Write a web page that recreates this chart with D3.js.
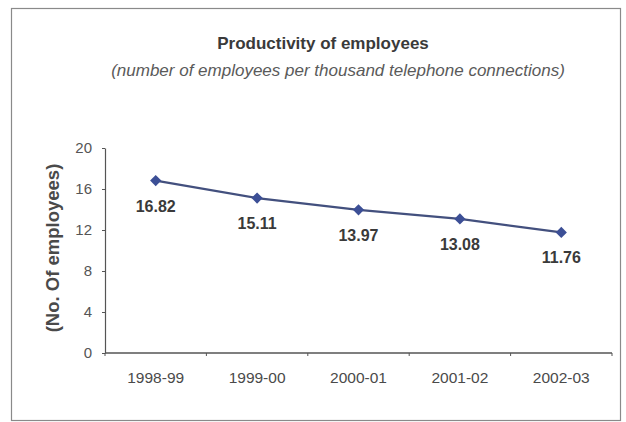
<!DOCTYPE html>
<html>
<head>
<meta charset="utf-8">
<script src="https://cdn.jsdelivr.net/npm/d3@7"></script>
<style>
  html, body { margin: 0; padding: 0; background: #fff; }
  svg { display: block; }
  text { font-family: Arial, "Liberation Sans", sans-serif; }
</style>
</head>
<body>
<svg id="chart" width="626" height="422"></svg>
<script>
// Employees per thousand telephone connections, by financial year
const years = ["1998-99", "1999-00", "2000-01", "2001-02", "2002-03"];
const employees = [16.82, 15.11, 13.97, 13.08, 11.76];
const yTicks = [0, 4, 8, 12, 16, 20];

const svg = d3.select("#chart");
const plot = { left: 105, right: 612, top: 148, bottom: 353 };

// outer frame
svg.append("rect")
  .attr("x", 11.5).attr("y", 8.5)
  .attr("width", 609).attr("height", 412)
  .attr("fill", "none").attr("stroke", "#8a8a8a").attr("stroke-width", 1.2);

// titles
svg.append("text")
  .attr("x", 323).attr("y", 49)
  .attr("text-anchor", "middle")
  .attr("font-size", 17).attr("font-weight", "bold").attr("fill", "#3a3a3a")
  .text("Productivity of employees");
svg.append("text")
  .attr("x", 338).attr("y", 76)
  .attr("text-anchor", "middle")
  .attr("font-size", 17).attr("font-style", "italic").attr("fill", "#5a5a5a")
  .text("(number of employees per thousand telephone connections)");

const x = d3.scaleBand().domain(years).range([plot.left, plot.right]);
const y = d3.scaleLinear().domain([0, 20]).range([plot.bottom, plot.top]);

// y axis
const yAxis = svg.append("g")
  .attr("transform", `translate(${plot.left},0)`)
  .call(d3.axisLeft(y).tickValues(yTicks).tickSize(3).tickPadding(10).tickSizeOuter(0));
yAxis.select(".domain").attr("stroke", "#555").attr("stroke-width", 1.2);
yAxis.selectAll(".tick line").attr("stroke", "#555");
yAxis.selectAll(".tick text")
  .attr("font-size", 15).attr("fill", "#555")
  .attr("font-family", "Arial, 'Liberation Sans', sans-serif");

// x axis with ticks at category boundaries
const xAxis = svg.append("g")
  .attr("transform", `translate(0,${plot.bottom})`);
xAxis.append("line")
  .attr("x1", plot.left).attr("x2", plot.right)
  .attr("stroke", "#555").attr("stroke-width", 1.4);
const bounds = years.map(d => x(d)).concat([x.range()[1]]);
xAxis.selectAll("line.b").data(bounds).join("line")
  .attr("class", "b")
  .attr("x1", d => d).attr("x2", d => d)
  .attr("y1", 0).attr("y2", 3)
  .attr("stroke", "#555");
xAxis.selectAll("text").data(years).join("text")
  .attr("x", d => x(d) + x.bandwidth() / 2)
  .attr("y", 30)
  .attr("text-anchor", "middle")
  .attr("font-size", 15.5).attr("fill", "#4a4a4a")
  .text(d => d);

// y axis title
svg.append("text")
  .attr("transform", `translate(59,248) rotate(-90)`)
  .attr("text-anchor", "middle")
  .attr("font-size", 18.5).attr("font-weight", "bold").attr("fill", "#4a4a4a")
  .text("(No. Of employees)");

const pts = years.map((d, i) => ({ year: d, v: employees[i] }));
const cx = d => x(d.year) + x.bandwidth() / 2;

// series line
svg.append("path")
  .datum(pts)
  .attr("fill", "none")
  .attr("stroke", "#43507e")
  .attr("stroke-width", 2.2)
  .attr("d", d3.line().x(cx).y(d => y(d.v)));

// diamond markers
svg.selectAll("path.m").data(pts).join("path")
  .attr("class", "m")
  .attr("transform", d => `translate(${cx(d)},${y(d.v)})`)
  .attr("d", d3.symbol().type(d3.symbolDiamond2).size(80))
  .attr("fill", "#3c4f96");

// value labels
svg.selectAll("text.v").data(pts).join("text")
  .attr("class", "v")
  .attr("x", cx)
  .attr("y", d => y(d.v) + 31)
  .attr("text-anchor", "middle")
  .attr("font-size", 16).attr("font-weight", "bold").attr("fill", "#3a3a3a")
  .text(d => d.v.toFixed(2));
</script>
</body>
</html>
